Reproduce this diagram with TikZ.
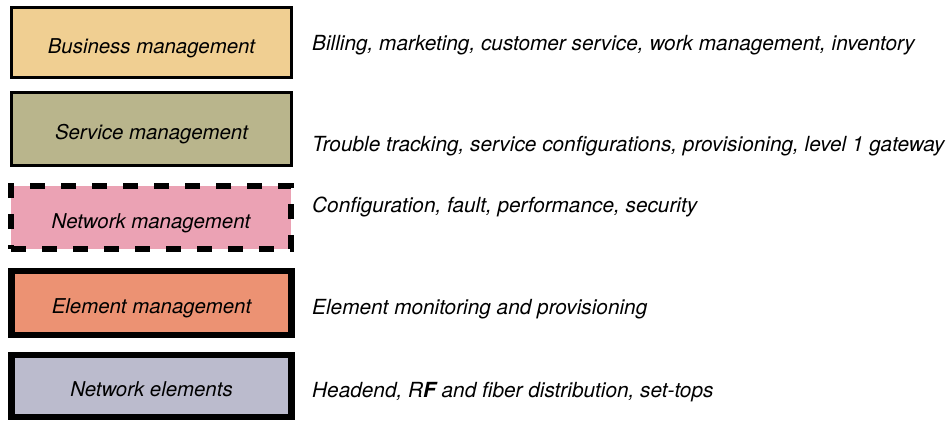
\documentclass[tikz,border=0pt]{standalone}
\usepackage{fontspec}
\setmainfont{TeX Gyre Heros}
\usepackage[x11names, svgnames]{xcolor}
\usepackage{tikz}
\usetikzlibrary{positioning}

\definecolor{bizfill}{HTML}{F0CF92}
\definecolor{svcfill}{HTML}{B9B58C}
\definecolor{netfill}{HTML}{EBA2B4}
\definecolor{elmfill}{HTML}{EC9273}
\definecolor{nelfill}{HTML}{BBBBCD}

\begin{document}
\begin{tikzpicture}[x=1pt, y=-1pt,
	layer/.style={draw=black, minimum width=280pt, inner sep=0pt, text height=21pt, text depth=0pt, font=\fontsize{20.4}{24}\selectfont\itshape},
	info/.style={anchor=west, inner sep=0pt, font=\fontsize{20.8}{24}\selectfont\itshape}]

	\useasboundingbox (0,0) rectangle (948,423);

	% the five management layers
	\node[layer, fill=bizfill, line width=3pt, minimum height=70pt] (business) at (151.5,42.5) {Business management};
	\node[layer, fill=svcfill, line width=3pt, minimum height=73pt] (service) at (151.5,128.5) {Service management};
	\node[layer, fill=netfill, line width=5.5pt, dash pattern=on 15pt off 16pt, minimum height=63pt] (network) at (151,217.5) {Network management};
	\node[layer, fill=elmfill, line width=6.5pt, minimum height=64pt] (element) at (151.5,303) {Element management};
	\node[layer, fill=nelfill, line width=6.5pt, minimum height=62pt] (nelements) at (151.5,386) {Network elements};

	% what each layer covers
	\node[info] (businfo) at (312,45) {Billing, marketing, customer service, work management, inventory};
	\node[info] (svcinfo) at (312,146) {Trouble tracking, service configurations, provisioning, level 1 gateway};
	\node[info] (netinfo) at (312,207) {Configuration, fault, performance, security};
	\node[info] (elminfo) at (312,309) {Element monitoring and provisioning};
	\node[info] (nelinfo) at (312,392) {Headend, R\textbf{F} and fiber distribution, set-tops};

\end{tikzpicture}
\end{document}
